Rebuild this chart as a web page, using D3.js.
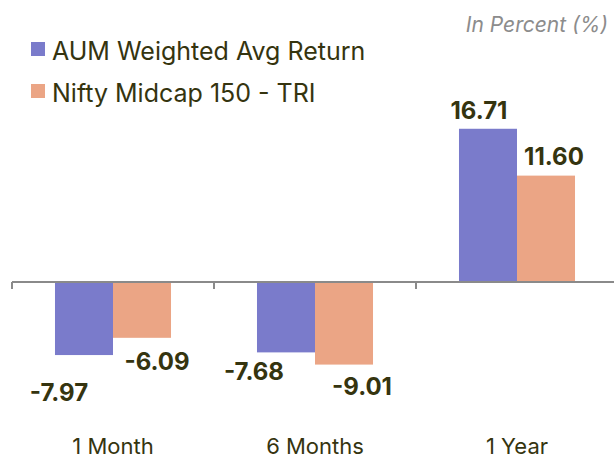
<!DOCTYPE html>
<html><head><meta charset="utf-8">
<script src="https://cdn.jsdelivr.net/npm/d3@7"></script>
<style>body{margin:0;background:#fff}svg{display:block}</style>
</head><body><svg id="c" width="614" height="459"></svg>
<script>
const categories = ["1 Month", "6 Months", "1 Year"];
const seriesNames = ["AUM Weighted Avg Return", "Nifty Midcap 150 - TRI"];
const aumValues = [-7.97, -7.68, 16.71];
const niftyValues = [-6.09, -9.01, 11.60];
const unitNote = "In Percent (%)";

const colors = ["#7a7bcb", "#eba585"];
const textColor = "#35340f";
const font = "Inter, 'Noto Sans', sans-serif";
const svg = d3.select("#c");

const data = categories.map((c, i) => ({cat: c, vals: [aumValues[i], niftyValues[i]]}));

const x0 = d3.scaleBand().domain(categories).range([12, 618]).padding(0);
const x1 = d3.scaleBand().domain([0, 1]).range([0, x0.bandwidth()]).paddingInner(0).paddingOuter(0.741);
const y = d3.scaleLinear().domain([-12, 20]).range([392.0, 98.6]);

// bars
const g = svg.append("g");
const groups = g.selectAll("g.grp").data(data).join("g").attr("transform", d => `translate(${x0(d.cat)},0)`);
groups.selectAll("rect").data(d => d.vals.map((v, k) => ({v, k})))
  .join("rect")
  .attr("x", d => x1(d.k))
  .attr("width", x1.bandwidth())
  .attr("y", d => y(Math.max(0, d.v)))
  .attr("height", d => Math.abs(y(d.v) - y(0)))
  .attr("fill", d => colors[d.k]);

// axis
const ax = svg.append("g").attr("transform", `translate(0,${y(0)})`);
ax.append("line").attr("x1", 12).attr("x2", 618).attr("stroke", "#8a8a8a").attr("stroke-width", 2);
const tickXs = categories.map(c => x0(c)).concat([x0.range()[1]]);
ax.selectAll("line.t").data(tickXs).join("line").attr("class", "t")
  .attr("x1", d => d).attr("x2", d => d).attr("y1", 0).attr("y2", 7)
  .attr("stroke", "#8a8a8a").attr("stroke-width", 2);

// category labels
svg.selectAll("text.cat").data(categories).join("text").attr("class", "cat")
  .attr("x", d => x0(d) + x0.bandwidth() / 2).attr("y", 454)
  .attr("text-anchor", "middle").attr("font-family", font).attr("font-size", 22)
  .attr("fill", textColor).text(d => d);

// value labels (nudges avoid overlaps as in the original)
const nudge = {"-7.97": [-25, 46], "-6.09": [15, 32], "-7.68": [-32, 28], "-9.01": [18, 30], "16.71": [-9, -10], "11.60": [8, -11]};
groups.selectAll("text.val").data(d => d.vals.map((v, k) => ({v, k})))
  .join("text").attr("class", "val")
  .attr("x", d => x1(d.k) + x1.bandwidth() / 2 + nudge[d.v.toFixed(2)][0])
  .attr("y", d => y(d.v) + nudge[d.v.toFixed(2)][1])
  .attr("text-anchor", "middle").attr("font-family", font).attr("font-weight", 700)
  .attr("font-size", 24).attr("fill", textColor).text(d => d.v.toFixed(2));

// legend
const leg = svg.append("g");
seriesNames.forEach((s, i) => {
  leg.append("rect").attr("x", 31).attr("y", 42 + i * 42).attr("width", 14).attr("height", 14).attr("fill", colors[i]);
  leg.append("text").attr("x", 52).attr("y", 60 + i * 42).attr("font-family", font).attr("font-size", 25)
    .attr("fill", textColor).text(s);
});

svg.append("text").attr("x", 608).attr("y", 32).attr("text-anchor", "end")
  .attr("font-family", font).attr("font-style", "italic").attr("font-size", 21)
  .attr("fill", "#8c8c8c").text(unitNote);
</script></body></html>
